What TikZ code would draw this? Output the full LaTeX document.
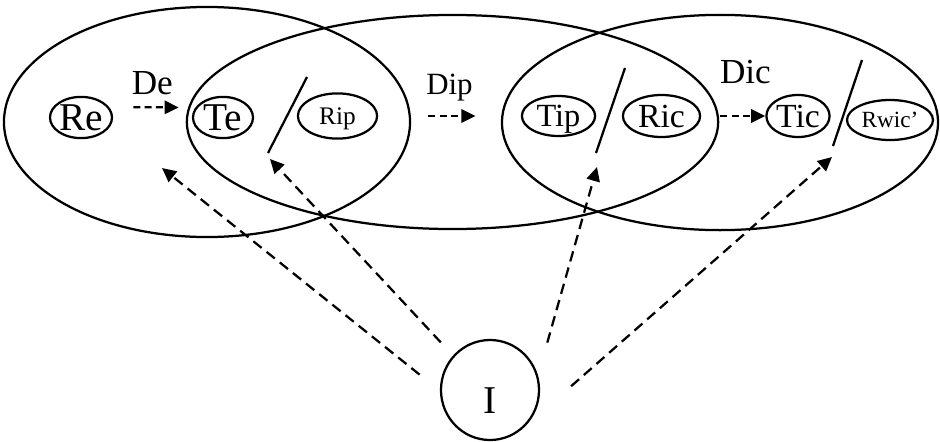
\documentclass[tikz,border=0pt]{standalone}
\usepackage{fontspec}
\setmainfont{Liberation Serif}
\usetikzlibrary{shapes.geometric,arrows.meta}

\begin{document}
\begin{tikzpicture}[x=0.025cm,y=-0.025cm,line width=1.6pt,
  stage/.style={shape=ellipse,draw,inner sep=0pt},
  item/.style={shape=ellipse,draw,inner sep=0pt,text depth=0pt},
  lbl/.style={inner sep=0pt,font=\fontsize{25}{30}\selectfont},
  flow/.style={->,>={Triangle[length=10pt,width=9.5pt]},dash pattern=on 5pt off 3pt},
  cue/.style={->,>={Triangle[length=10pt,width=9.5pt]},dash pattern=on 7.5pt off 4.5pt}]
\useasboundingbox (0,0) rectangle (940,441);
% the three big sets
\node(setE)[stage,minimum width=10.15cm,minimum height=5.75cm] at (207,122){};
\node(setIP)[stage,minimum width=13.28cm,minimum height=5.35cm] at (452.5,122){};
\node(setIC)[stage,minimum width=10.9cm,minimum height=5.38cm] at (720,122.5){};
% states inside the sets
\node(Re)[item,minimum width=1.55cm,minimum height=1.03cm,font=\fontsize{28}{30}\selectfont] at (81,117.5){Re};
\node(Te)[item,minimum width=1.5cm,minimum height=1.03cm,font=\fontsize{28}{30}\selectfont] at (223,117.5){Te};
\node(Rip)[item,minimum width=1.98cm,minimum height=1.13cm,font=\fontsize{18}{20}\selectfont] at (337.5,116){Rip};
\node(Tip)[item,minimum width=1.83cm,minimum height=1.0cm,font=\fontsize{23}{26}\selectfont] at (558.5,116){Tip};
\node(Ric)[item,minimum width=1.93cm,minimum height=1.05cm,font=\fontsize{24}{27}\selectfont] at (661.5,116){Ric};
\node(Tic)[item,minimum width=1.58cm,minimum height=1.05cm,font=\fontsize{24}{28}\selectfont] at (798,116){Tic};
\node(Rwic)[item,minimum width=2.15cm,minimum height=1.0cm,font=\fontsize{16.5}{19}\selectfont] at (890,120){Rwic'};
\node(I)[shape=ellipse,draw,inner sep=0pt,minimum width=2.45cm,minimum height=2.5cm,text height=34pt,text depth=0pt,font=\fontsize{28}{32}\selectfont] at (490,390){I};
% separators
\draw (307,77)--(268,153);
\draw (625,68)--(596,153);
\draw (862,60)--(833,146);
% transitions
\draw[flow,shorten <=0.6cm,shorten >=0.42cm] (Re.20)--(Te.160) node[midway,above=8pt,lbl]{De};
\draw[flow,shorten <=1.25cm,shorten >=1.13cm] (Rip.east)--(Tip.west) node[midway,above=10pt,lbl,font=\fontsize{22}{26}\selectfont]{Dip};
\draw[flow,shorten <=0.48cm] (Ric.east)--(Tic.west) node[pos=.69,above=22pt,lbl]{Dic};
% cues from I
\coordinate(t1) at (162,168);
\coordinate(t2) at (270,159);
\coordinate(t3) at (597,167);
\coordinate(t4) at (832,157);
\draw[cue,shorten <=0.65cm] (I.181)--(t1);
\draw[cue,shorten <=0.45cm] (I.137)--(t2);
\draw[cue,shorten <=0.85cm] (I.17)--(t3);
\draw[cue,shorten <=1.57cm] (I.-48)--(t4);
\end{tikzpicture}
\end{document}
